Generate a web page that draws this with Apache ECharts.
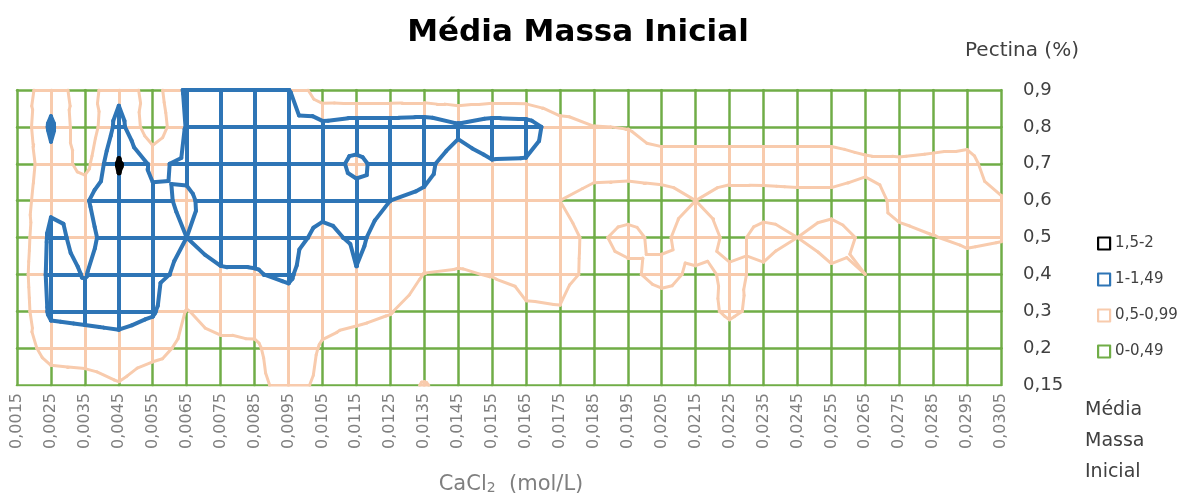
<!DOCTYPE html>
<html>
<head>
<meta charset="utf-8">
<script src="https://cdn.jsdelivr.net/npm/echarts@6/dist/echarts.min.js"></script>
<style>
  html, body { margin: 0; padding: 0; background: #ffffff; }
  #chart { width: 1200px; height: 497px; }
</style>
</head>
<body>
<div id="chart"></div>
<script>
// CaCl2 concentration (mol/L) - x categories
const rotulosX = ['0,0015','0,0025','0,0035','0,0045','0,0055','0,0065','0,0075','0,0085','0,0095','0,0105',
                  '0,0115','0,0125','0,0135','0,0145','0,0155','0,0165','0,0175','0,0185','0,0195','0,0205',
                  '0,0215','0,0225','0,0235','0,0245','0,0255','0,0265','0,0275','0,0285','0,0295','0,0305'];
// Pectin (%) - y categories, bottom to top
const rotulosY = ['0,15','0,2','0,3','0,4','0,5','0,6','0,7','0,8','0,9'];

// Mean initial mass, one row per pectin level (left to right along CaCl2)
const massaP015 = [0.05,0.27,0.30,0.47,0.16,0.20,0.30,0.42,0.60,0.44,0.30,0.30,0.53,0.30,0.10,0.10,0.10,0.10,0.10,0.10,0.10,0.10,0.10,0.10,0.10,0.10,0.10,0.10,0.10,0.10];
const massaP020 = [0.22,0.70,0.75,0.80,0.70,0.35,0.39,0.45,0.70,0.47,0.35,0.30,0.20,0.20,0.15,0.20,0.20,0.15,0.15,0.15,0.15,0.30,0.15,0.15,0.15,0.15,0.15,0.15,0.15,0.15];
const massaP030 = [0.13,1.10,1.15,1.20,1.05,0.48,0.70,0.65,0.75,0.60,0.60,0.52,0.30,0.30,0.20,0.46,0.48,0.20,0.25,0.30,0.36,0.56,0.40,0.20,0.20,0.20,0.20,0.20,0.20,0.20];
const massaP040 = [0.18,1.15,0.98,1.30,1.10,0.90,0.97,0.97,1.08,0.55,0.98,0.80,0.49,0.46,0.52,0.60,0.60,0.42,0.42,0.62,0.42,0.55,0.45,0.30,0.45,0.50,0.30,0.30,0.38,0.35];
const massaP050 = [0.12,1.12,0.86,1.25,1.15,1.00,1.10,1.15,1.15,0.89,1.07,0.84,0.80,0.70,0.70,0.75,0.60,0.43,0.60,0.40,0.76,0.40,0.60,0.50,0.62,0.45,0.43,0.49,0.55,0.52];
const massaP060 = [0.20,0.90,0.95,1.35,1.10,0.93,1.20,1.25,1.20,1.15,1.15,1.00,0.94,0.85,0.80,0.80,0.50,0.35,0.32,0.35,0.50,0.35,0.36,0.38,0.38,0.32,0.60,0.65,0.65,0.55];
const massaP070 = [0.10,0.85,0.30,1.55,0.90,1.10,1.25,1.30,1.25,1.20,0.90,1.20,1.10,0.80,0.96,0.95,0.80,0.66,0.66,0.70,0.70,0.70,0.70,0.72,0.72,0.60,0.60,0.65,0.65,0.20];
const massaP080 = [0.05,1.10,0.05,1.20,0.10,1.03,1.25,1.25,1.20,1.17,1.30,1.30,1.35,1.10,1.30,1.25,0.70,0.51,0.49,0.27,0.27,0.27,0.27,0.25,0.25,0.18,0.05,0.13,0.26,0.10];
const massaP090 = [0.25,0.75,0.25,0.85,0.25,1.10,1.20,1.20,1.02,0.12,0.05,0.05,0.05,0.05,0.05,0.05,0.03,0.10,0.10,0.10,0.10,0.10,0.10,0.10,0.10,0.10,0.10,0.10,0.10,0.10];

const faixas = ['0-0,49', '0,5-0,99', '1-1,49', '1,5-2'];
const limites = [0.5, 1.0, 1.5];

const cores = ['#70AD47', '#F8CBAD', '#2E75B6', '#000000'];
const larguras = [2.5, 3, 4, 4.5];
const fonte = 'DejaVu Sans';

const linhas = [massaP015, massaP020, massaP030, massaP040, massaP050, massaP060, massaP070, massaP080, massaP090];
const nx = rotulosX.length, ny = rotulosY.length;

function faixa(v) {
  let k = 0;
  limites.forEach(function (L) { if (v >= L) k++; });
  return k;
}

// segments per band: wireframe pieces and contour outlines
const segs = [[], [], [], []];

// grid line between two nodes, split where it crosses the band limits
function aresta(x1, y1, v1, x2, y2, v2) {
  const cortes = [0, 1];
  limites.forEach(function (L) {
    if ((v1 < L) !== (v2 < L)) cortes.push((L - v1) / (v2 - v1));
  });
  cortes.sort(function (a, b) { return a - b; });
  for (let k = 0; k < cortes.length - 1; k++) {
    const t0 = cortes[k], t1 = cortes[k + 1];
    if (t1 - t0 < 1e-9) continue;
    const vm = v1 + (v2 - v1) * (t0 + t1) / 2;
    segs[faixa(vm)].push({ coords: [
      [x1 + (x2 - x1) * t0, y1 + (y2 - y1) * t0],
      [x1 + (x2 - x1) * t1, y1 + (y2 - y1) * t1]
    ] });
  }
}

// contour pieces through one triangle (linear interpolation)
function triangulo(p) {
  limites.forEach(function (L, k) {
    const pts = [];
    for (let m = 0; m < 3; m++) {
      const a = p[m], b = p[(m + 1) % 3];
      if ((a[2] < L) !== (b[2] < L)) {
        const t = (L - a[2]) / (b[2] - a[2]);
        pts.push([a[0] + (b[0] - a[0]) * t, a[1] + (b[1] - a[1]) * t]);
      }
    }
    if (pts.length === 2) segs[k + 1].push({ coords: pts });
  });
}

for (let j = 0; j < ny; j++) {
  for (let i = 0; i < nx; i++) {
    const v = linhas[j][i];
    if (i < nx - 1) aresta(i, j, v, i + 1, j, linhas[j][i + 1]);
    if (j < ny - 1) aresta(i, j, v, i, j + 1, linhas[j + 1][i]);
  }
}

for (let j = 0; j < ny - 1; j++) {
  for (let i = 0; i < nx - 1; i++) {
    const a = [i, j, linhas[j][i]];
    const b = [i + 1, j, linhas[j][i + 1]];
    const c = [i + 1, j + 1, linhas[j + 1][i + 1]];
    const d = [i, j + 1, linhas[j + 1][i]];
    const e = [i + 0.5, j + 0.5, (a[2] + b[2] + c[2] + d[2]) / 4];
    triangulo([a, b, e]);
    triangulo([b, c, e]);
    triangulo([c, d, e]);
    triangulo([d, a, e]);
  }
}

const series = faixas.map(function (nome, k) {
  return {
    type: 'lines',
    name: nome,
    coordinateSystem: 'cartesian2d',
    data: segs[k],
    silent: true,
    animation: false,
    z: 2 + k,
    lineStyle: { color: cores[k], width: larguras[k], opacity: 1, cap: 'round', join: 'round', curveness: 0 }
  };
});

const chart = echarts.init(document.getElementById('chart'), null, { renderer: 'canvas' });
chart.setOption({
  backgroundColor: '#ffffff',
  animation: false,
  grid: { left: 17, right: 199, top: 90, bottom: 112, containLabel: false },
  xAxis: {
    type: 'value', min: 0, max: nx - 1, interval: 1,
    axisLine: { show: false }, axisTick: { show: false }, splitLine: { show: false },
    axisLabel: {
      rotate: 90, margin: 8, color: '#7f7f7f', fontSize: 16, fontFamily: fonte,
      formatter: function (v) { return rotulosX[v] || ''; }
    }
  },
  yAxis: {
    type: 'value', position: 'right', min: 0, max: ny - 1, interval: 1,
    axisLine: { show: false }, axisTick: { show: false }, splitLine: { show: false },
    axisLabel: {
      margin: 22, color: '#404040', fontSize: 18, fontFamily: fonte, align: 'left',
      formatter: function (v) { return rotulosY[v] || ''; }
    }
  },
  legend: {
    orient: 'vertical', left: 1092, top: 231, itemGap: 21,
    itemWidth: 12, itemHeight: 12, icon: 'rect', selectedMode: false,
    textStyle: { fontFamily: fonte, fontSize: 15, color: '#404040' },
    data: [3, 2, 1, 0].map(function (k) {
      return { name: faixas[k], icon: 'rect', itemStyle: { color: '#ffffff', borderColor: cores[k], borderWidth: 2.2 } };
    })
  },
  graphic: [
    { type: 'text', x: 578, y: 33, style: { text: 'Média Massa Inicial', fontFamily: fonte, fontWeight: 'bold', fontSize: 31, fill: '#000000', align: 'center', verticalAlign: 'middle' } },
    { type: 'text', x: 965, y: 51, style: { text: 'Pectina (%)', fontFamily: fonte, fontSize: 20, fill: '#404040', align: 'left', verticalAlign: 'middle' } },
    { type: 'text', x: 511, y: 485, style: {
        text: 'CaCl{s|2}  (mol/L)', fontFamily: fonte, fontSize: 21, fill: '#7f7f7f', align: 'center', verticalAlign: 'middle',
        rich: { s: { fontFamily: fonte, fontSize: 14, fill: '#7f7f7f', padding: [6, 0, 0, 0] } }
    } },
    { type: 'text', x: 1085, y: 410, style: { text: 'Média', fontFamily: fonte, fontSize: 19, fill: '#404040', align: 'left', verticalAlign: 'middle' } },
    { type: 'text', x: 1085, y: 441, style: { text: 'Massa', fontFamily: fonte, fontSize: 19, fill: '#404040', align: 'left', verticalAlign: 'middle' } },
    { type: 'text', x: 1085, y: 472, style: { text: 'Inicial', fontFamily: fonte, fontSize: 19, fill: '#404040', align: 'left', verticalAlign: 'middle' } }
  ],
  series: series
});
</script>
</body>
</html>
